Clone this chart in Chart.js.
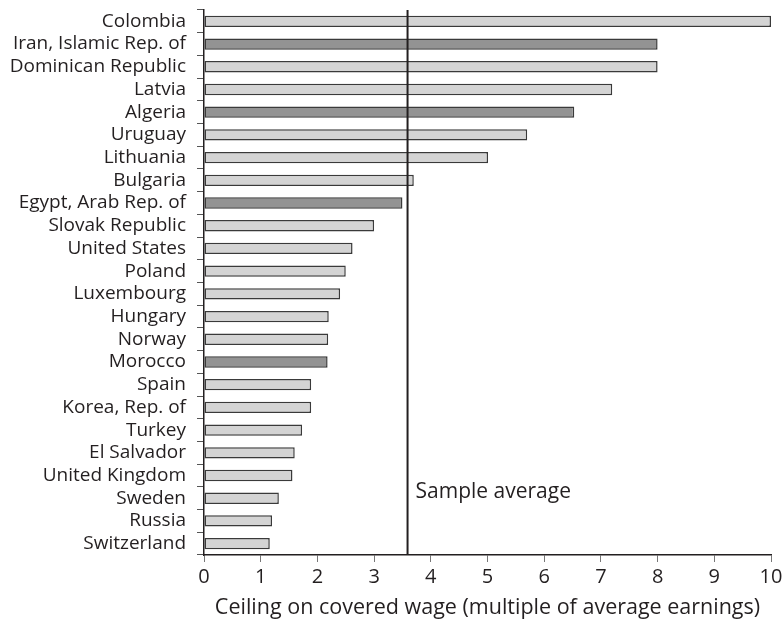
<!DOCTYPE html>
<html>
<head>
<meta charset="utf-8">
<script src="https://cdn.jsdelivr.net/npm/chart.js@4.4.1/dist/chart.umd.min.js"></script>
<style>
  html, body { margin: 0; padding: 0; background: #fff; }
  #wrap { width: 783px; height: 627px; }
</style>
</head>
<body>
<div id="wrap"><canvas id="ceilingChart"></canvas></div>
<script>
// countries, top to bottom
const countries = [
    'Colombia', 'Iran, Islamic Rep. of', 'Dominican Republic', 'Latvia', 'Algeria',
    'Uruguay', 'Lithuania', 'Bulgaria', 'Egypt, Arab Rep. of', 'Slovak Republic',
    'United States', 'Poland', 'Luxembourg', 'Hungary', 'Norway', 'Morocco',
    'Spain', 'Korea, Rep. of', 'Turkey', 'El Salvador', 'United Kingdom',
    'Sweden', 'Russia', 'Switzerland'
];
// ceiling as multiple of average earnings
const ceilings = [
    10.0, 8.0, 8.0, 7.2, 6.53,
    5.7, 5.01, 3.7, 3.5, 3.0,
    2.62, 2.5, 2.4, 2.2, 2.19, 2.18,
    1.89, 1.89, 1.73, 1.6, 1.56,
    1.32, 1.2, 1.16
];
// Middle East & North Africa countries get the darker bar
const isMena = [
    false, true, false, false, true,
    false, false, false, true, false,
    false, false, false, false, false, true,
    false, false, false, false, false,
    false, false, false
];
const xTicks = [0, 1, 2, 3, 4, 5, 6, 7, 8, 9, 10];
const sampleAverage = 3.59;

const FONT = '"Open Sans", "Noto Sans", sans-serif';
const INK = '#231f20';

// vertical line for the sample average + its label
const averageLine = {
    id: 'averageLine',
    afterDatasetsDraw(chart) {
        const { ctx, chartArea, scales } = chart;
        const x = scales.x.getPixelForValue(sampleAverage);
        ctx.save();
        ctx.strokeStyle = INK;
        ctx.lineWidth = 2;
        ctx.beginPath();
        ctx.moveTo(x, chartArea.top);
        ctx.lineTo(x, chartArea.bottom);
        ctx.stroke();

        ctx.fillStyle = INK;
        ctx.font = '21px ' + FONT;
        ctx.textBaseline = 'middle';
        ctx.textAlign = 'left';
        const yMid = (scales.y.getPixelForValue(20) + scales.y.getPixelForValue(21)) / 2 + 5;
        ctx.fillText('Sample average', x + 8, yMid);
        ctx.restore();
    }
};

const ctx = document.getElementById('ceilingChart').getContext('2d');

new Chart(ctx, {
    type: 'bar',
    data: {
        labels: countries,
        datasets: [{
            label: 'Ceiling',
            data: ceilings,
            backgroundColor: isMena.map(m => m ? '#939393' : '#d4d4d4'),
            borderColor: '#3a3a3a',
            borderWidth: 1.5,
            borderSkipped: false,
            categoryPercentage: 1.0,
            barPercentage: 0.5
        }]
    },
    plugins: [averageLine],
    options: {
        indexAxis: 'y',
        responsive: true,
        maintainAspectRatio: false,
        animation: false,
        layout: {
            padding: { top: 10, right: 12, left: 0, bottom: 0 }
        },
        scales: {
            x: {
                type: 'linear',
                min: 0,
                max: 10,
                afterBuildTicks: scale => {
                    scale.ticks = xTicks.map(v => ({ value: v }));
                },
                afterFit: scale => {
                    scale.height = 72;
                    scale.paddingLeft = 0;
                    scale.paddingRight = 0;
                },
                border: { color: INK, width: 1.5 },
                grid: {
                    drawOnChartArea: false,
                    drawTicks: true,
                    tickLength: 7,
                    color: '#777'
                },
                ticks: {
                    color: INK,
                    padding: 3,
                    font: { family: FONT, size: 20 }
                },
                title: {
                    display: true,
                    text: 'Ceiling on covered wage (multiple of average earnings)',
                    color: INK,
                    padding: { top: 0, bottom: 6 },
                    font: { family: FONT, size: 21.5 }
                }
            },
            y: {
                afterFit: scale => {
                    scale.width = 204;
                    scale.paddingTop = 0;
                    scale.paddingBottom = 0;
                },
                border: { color: INK, width: 1.5 },
                grid: {
                    offset: true,
                    drawOnChartArea: false,
                    drawTicks: true,
                    tickLength: 7,
                    color: '#555'
                },
                ticks: {
                    color: INK,
                    padding: 11,
                    autoSkip: false,
                    font: { family: FONT, size: 19 }
                }
            }
        },
        plugins: {
            legend: { display: false },
            tooltip: { enabled: false }
        }
    }
});
</script>
</body>
</html>
